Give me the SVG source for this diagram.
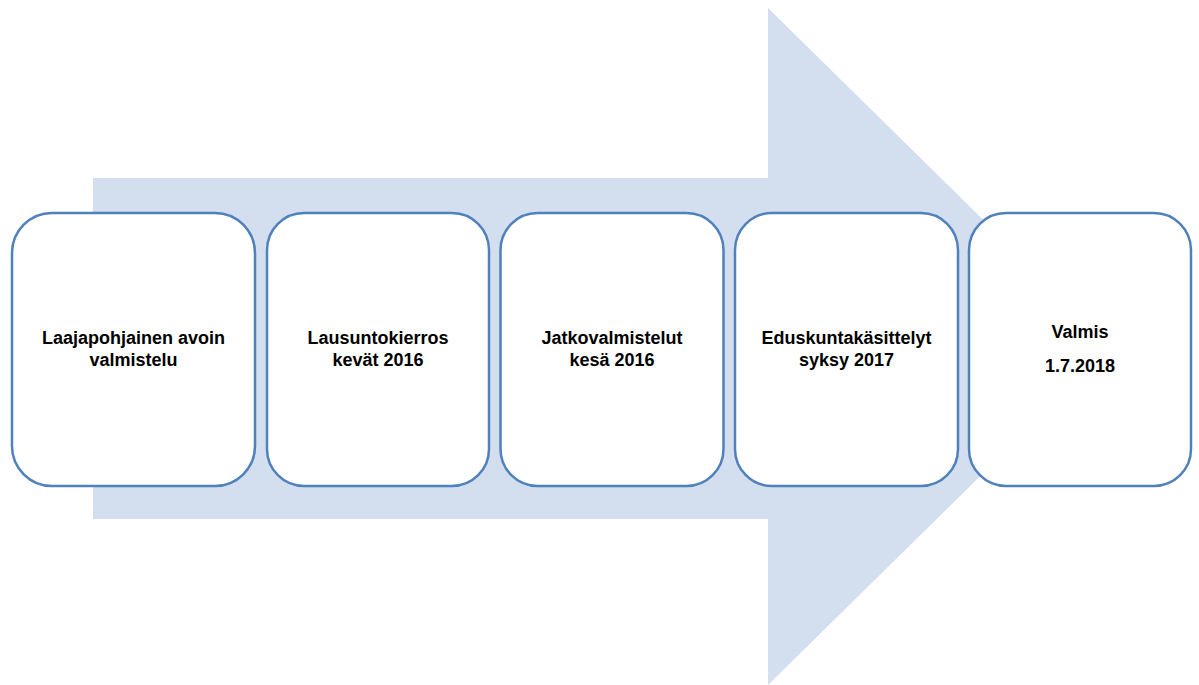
<svg xmlns="http://www.w3.org/2000/svg" width="1199" height="685" viewBox="0 0 1199 685">
<style>
.box{fill:#FFFFFF;stroke:#4F81BD;stroke-width:2.5}
.lbl{font-family:"Liberation Sans",Arial,sans-serif;font-weight:bold;font-size:18px;fill:#000000;text-anchor:middle}
</style>
<rect width="1199" height="685" fill="#FFFFFF"/>
<g id="connectors">
<polygon id="big-arrow" points="93,178 768,178 768,8 1112,346.5 768,685 768,519 93,519" fill="#D3DEEF"/>
</g>
<g id="node1">
<rect class="box" x="12" y="213" width="243" height="273" rx="40" ry="40"/>
<text class="lbl" x="133.5" y="344">Laajapohjainen avoin</text>
<text class="lbl" x="133.5" y="366">valmistelu</text>
</g>
<g id="node2">
<rect class="box" x="267" y="213" width="222" height="273" rx="37" ry="37"/>
<text class="lbl" x="378" y="344">Lausuntokierros</text>
<text class="lbl" x="378" y="366">kevät 2016</text>
</g>
<g id="node3">
<rect class="box" x="500.5" y="213" width="223" height="273" rx="37" ry="37"/>
<text class="lbl" x="612" y="344">Jatkovalmistelut</text>
<text class="lbl" x="612" y="366">kesä 2016</text>
</g>
<g id="node4">
<rect class="box" x="735" y="213" width="223" height="273" rx="37" ry="37"/>
<text class="lbl" x="846.5" y="344">Eduskuntakäsittelyt</text>
<text class="lbl" x="846.5" y="366">syksy 2017</text>
</g>
<g id="node5">
<rect class="box" x="969" y="213" width="222" height="273" rx="37" ry="37"/>
<text class="lbl" x="1080" y="338">Valmis</text>
<text class="lbl" x="1080" y="372">1.7.2018</text>
</g>
</svg>
